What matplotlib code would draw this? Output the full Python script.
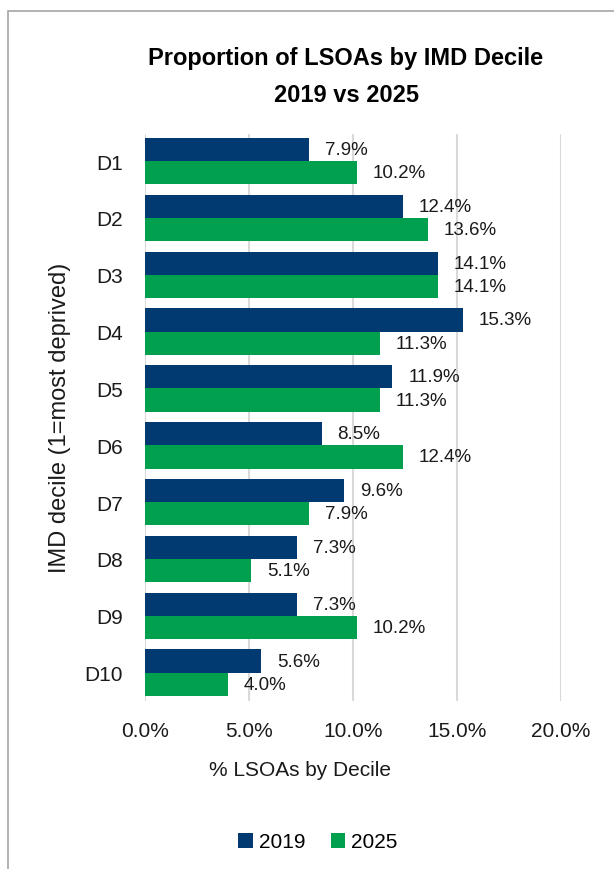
import numpy as np
import matplotlib.pyplot as plt
from matplotlib.patches import Rectangle

# Valores
deciles = ["D1", "D2", "D3", "D4", "D5", "D6", "D7", "D8", "D9", "D10"]
pct_2019 = [7.9, 12.4, 14.1, 15.3, 11.9, 8.5, 9.6, 7.3, 7.3, 5.6]
pct_2025 = [10.2, 13.6, 14.1, 11.3, 11.3, 12.4, 7.9, 5.1, 10.2, 4.0]
x_ticks = [0, 5, 10, 15, 20]

cor_2019 = "#003A70"
cor_2025 = "#00A04F"

plt.rcParams["font.family"] = ["Liberation Sans", "DejaVu Sans"]

fig = plt.figure(figsize=(6.14, 8.7), dpi=100)
ax = fig.add_axes([0.236, 0.193, 0.677, 0.652])

y = np.arange(len(deciles))
h = 0.41
b1 = ax.barh(y - h/2, pct_2019, height=h, color=cor_2019, label="2019", zorder=3)
b2 = ax.barh(y + h/2, pct_2025, height=h, color=cor_2025, label="2025", zorder=3)

ax.bar_label(b1, labels=["{:.1f}%".format(v) for v in pct_2019], padding=11.5, fontsize=13.5, color="#1a1a1a")
ax.bar_label(b2, labels=["{:.1f}%".format(v) for v in pct_2025], padding=11.5, fontsize=13.5, color="#1a1a1a")

ax.set_xlim(0, 20)
ax.set_ylim(9.5, -0.48)
ax.set_xticks(x_ticks)
ax.set_xticklabels(["{:.1f}%".format(v) for v in x_ticks], fontsize=15)
ax.set_yticks(y)
ax.set_yticklabels(deciles, fontsize=15)
ax.tick_params(axis="both", length=0, colors="#1a1a1a")
ax.tick_params(axis="x", pad=14)
ax.tick_params(axis="y", pad=16)
ax.grid(axis="x", color="#D9D9D9", linewidth=1.5, zorder=0)
for s in ax.spines.values():
    s.set_visible(False)

fig.text(346/614, 1 - 58/870, "Proportion of LSOAs by IMD Decile",
         fontweight="bold", fontsize=17, ha="center", va="center")
fig.text(346/614, 1 - 95/870, "2019 vs 2025",
         fontweight="bold", fontsize=17, ha="center", va="center")

fig.text(300/614, 1 - 771/870, "% LSOAs by Decile", fontsize=15, ha="center", va="center", color="#1a1a1a")
fig.text(60/614, 1 - 418/870, "IMD decile (1=most deprived)", fontsize=17, rotation=90,
         ha="center", va="center", color="#1a1a1a")

fig.legend(handles=[b1, b2], loc="center", bbox_to_anchor=(318/614, 1 - 843/870), ncol=2,
           frameon=False, fontsize=15, handlelength=0.7, handleheight=0.7,
           handletextpad=0.3, columnspacing=1.2)

fig.patches.append(Rectangle((8/614, -0.1), 1.2, 0.1 + 1 - 12/870, transform=fig.transFigure,
                             fill=False, edgecolor="#A6A6A6", linewidth=1.2))

plt.savefig("out.png", dpi=100)
